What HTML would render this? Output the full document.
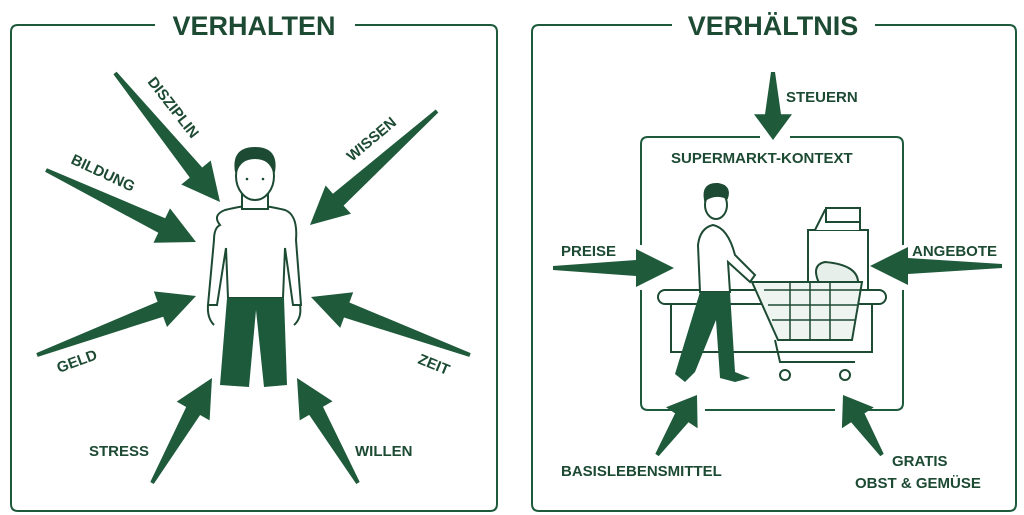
<!DOCTYPE html>
<html><head><meta charset="utf-8"><style>
html,body{margin:0;padding:0;background:#fff}
svg{display:block}
text{font-family:"Liberation Sans",sans-serif;font-weight:bold;fill:#1d4a33}
</style></head><body>
<svg id="s" width="1024" height="515" viewBox="0 0 1024 515" xmlns="http://www.w3.org/2000/svg">
<g fill="none" stroke="#1d5a3c" stroke-width="2">
<path d="M155 25 H18 Q11 25 11 32 V504 Q11 511 18 511 H490 Q497 511 497 504 V32 Q497 25 490 25 H355"/>
<path d="M672 25 H539 Q532 25 532 32 V504 Q532 511 539 511 H1009 Q1016 511 1016 504 V32 Q1016 25 1009 25 H875"/>
<path d="M760 137 H648 Q641 137 641 144 V245 M641 290 V403 Q641 410 648 410 H690 M705 410 H835 M852 410 H896 Q903 410 903 403 V290 M903 245 V144 Q903 137 896 137 H790"/>
</g>
<text x="254" y="35" font-size="27" text-anchor="middle" fill="#1d4a33">VERHALTEN</text>
<text x="773" y="35" font-size="27" text-anchor="middle">VERHÄLTNIS</text>
<g id="arrows" fill="#1f5a3b"></g>
<g font-size="15">
<text transform="translate(147,82) rotate(52)">DISZIPLIN</text>
<text transform="translate(70,163) rotate(25)">BILDUNG</text>
<text transform="translate(352,162) rotate(-40)">WISSEN</text>
<text transform="translate(59,373) rotate(-20)">GELD</text>
<text transform="translate(417,363) rotate(22)">ZEIT</text>
<text x="89" y="456">STRESS</text>
<text x="355" y="456">WILLEN</text>
<text x="786" y="102">STEUERN</text>
<text x="671" y="163">SUPERMARKT-KONTEXT</text>
<text x="561" y="256">PREISE</text>
<text x="912" y="256">ANGEBOTE</text>
<text x="561" y="476">BASISLEBENSMITTEL</text>
<text x="892" y="466">GRATIS</text>
<text x="855" y="488">OBST &amp; GEMÜSE</text>
</g>
<!-- person left -->
<g stroke="#1d4a33" stroke-width="2" fill="#fff">
<path d="M220 225 Q212 215 225 210 Q245 205 254 206 Q265 205 285 210 Q298 215 296 240 L301 305 L293 305 L285 248 L283 298 L228 298 L226 248 L217 305 L208 305 L214 240 Q214 228 220 225 Z"/>
<path d="M208 305 Q207 318 214 325 M300 305 Q302 318 294 325"/>
<rect x="242" y="195" width="26" height="14" fill="#fff"/>
<ellipse cx="255" cy="176" rx="19" ry="24"/>
<path d="M236 172 Q232 148 255 148 Q278 148 274 172 Q270 158 255 158 Q240 158 236 172 Z" fill="#1d4a33"/>
</g>
<path d="M227 298 H284 L287 385 L264 387 L256 310 L249 387 L220 385 Z" fill="#1d5a3c"/>
<g fill="#1d4a33"><circle cx="247" cy="179" r="1.3"/><circle cx="263" cy="179" r="1.3"/></g>
<!-- supermarket scene -->
<g stroke="#1d4a33" stroke-width="2" fill="#fff">
<rect x="658" y="290" width="228" height="14" rx="7"/>
<path d="M671 304 V352 H872 V304" fill="none"/>
<rect x="808" y="230" width="60" height="60"/>
<path d="M815 230 L825 210 H860 V230"/>
<rect x="826" y="208" width="34" height="14"/>
<path d="M820 285 Q810 265 825 262 Q860 265 858 285 Z" fill="#e6efe9"/>
<path d="M752 282 H862 L852 340 H778 Z" fill="#eef4f0"/>
<path d="M740 272 L752 282 M775 340 L780 362 H855" fill="none"/>
<path d="M764 290 H860 M768 305 H857 M772 320 H855 M790 283 V340 M810 283 V340 M830 283 V340" fill="none" stroke-width="1.5"/>
<circle cx="785" cy="375" r="5"/><circle cx="845" cy="375" r="5"/>
<path d="M698 245 Q700 228 713 225 Q728 228 735 255 L755 275 L750 282 L728 262 L730 292 H700 Z"/>
<ellipse cx="716" cy="205" rx="11" ry="14"/>
<path d="M705 200 Q702 183 718 184 Q731 186 727 198 Q715 193 705 200 Z" fill="#1d4a33"/>
</g>
<path d="M700 292 H730 L735 372 L750 378 L735 382 L720 378 L716 320 L695 372 L685 382 L675 374 Z" fill="#1d5a3c"/>
</svg>
<script>
function arr(x1,y1,x2,y2){
 var dx=x2-x1,dy=y2-y1,L=Math.hypot(dx,dy),ux=dx/L,uy=dy/L,px=-uy,py=ux;
 var hl=Math.min(38,L*0.38),hw=19,sw=8,tw=2;
 var bx=x2-ux*hl,by=y2-uy*hl;
 var pts=[[x1+px*tw,y1+py*tw],[bx+px*sw,by+py*sw],[bx+px*hw,by+py*hw],[x2,y2],[bx-px*hw,by-py*hw],[bx-px*sw,by-py*sw],[x1-px*tw,y1-py*tw]];
 return '<polygon points="'+pts.map(function(p){return p[0].toFixed(1)+','+p[1].toFixed(1)}).join(' ')+'"/>';
}
var A=[[115,73,220,202],[46,170,196,242],[437,111,310,225],[37,355,196,296],[470,355,311,297],[152,483,212,378],[358,483,297,378],
[773,72,773,140],[553,268,674,268],[1002,266,870,266],[657,455,697,395],[882,455,843,395]];
document.getElementById('arrows').innerHTML=A.map(function(a){return arr.apply(null,a)}).join('');
</script>
</body></html>
